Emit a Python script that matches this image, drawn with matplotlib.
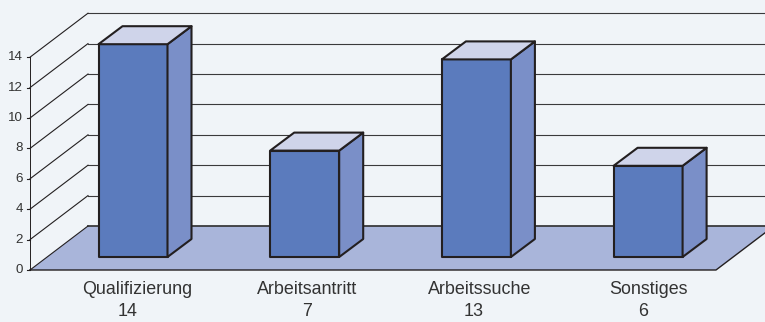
import matplotlib.pyplot as plt
from matplotlib.patches import Polygon

categories = ['Qualifizierung', 'Arbeitsantritt', 'Arbeitssuche', 'Sonstiges']
values = [14, 7, 13, 6]
y_ticks = [0, 2, 4, 6, 8, 10, 12, 14]

plt.rcParams['font.family'] = ['Liberation Sans', 'DejaVu Sans']

bg = '#f0f4f8'
front_col = '#5b7bbd'
side_col = '#7a8fc8'
top_col = '#cfd4ea'
floor_col = '#a9b5da'
line_col = '#231f20'

# one category = 171.7 px, one value unit = 15.2 px
px_x = 171.7
px_y = 15.2

fig = plt.figure(figsize=(7.65, 3.22), dpi=100, facecolor=bg)
ax = fig.add_axes([0, 0, 1, 1])
ax.set_xlim(-133 / px_x, (765 - 133) / px_x)
ax.set_ylim(-(322 - 270) / px_y, 270 / px_y)
ax.axis('off')

# depth of the box (back wall) and of the bars
box_dx, box_dy = 58 / px_x, 44 / px_y
bar_dx, bar_dy = 24 / px_x, 18 / px_y
bar_w = 69 / px_x
bar_base = 13 / px_y
x0 = -103 / px_x
x1 = 583 / px_x
x_end = 640 / px_x

# floor
ax.add_patch(Polygon([(x0, 0), (x1, 0), (x1 + box_dx, box_dy), (x0 + box_dx, box_dy)],
                     closed=True, fc=floor_col, ec='none', zorder=1))
ax.plot([x0, x1, x1 + box_dx], [0, 0, box_dy], color=line_col, lw=1.0, zorder=2)

# walls
ax.plot([x0, x0], [0, max(y_ticks)], color=line_col, lw=0.7, zorder=2)
for t in y_ticks:
    lw = 1.3 if t == 0 else 0.8
    ax.plot([x0 + box_dx, x_end], [t + box_dy, t + box_dy], color='#3a3a3c', lw=lw, zorder=2)
    ax.plot([x0, x0 + box_dx], [t, t + box_dy], color=line_col, lw=0.8, zorder=2)
    ax.plot([x0 - 3 / px_x, x0], [t, t], color=line_col, lw=0.8, zorder=2)
    ax.text(x0 - 7 / px_x, t, str(t), ha='right', va='center', fontsize=9.6, color='#333333')

# bars
for i, v in enumerate(values):
    l = i - bar_w / 2
    r = i + bar_w / 2
    b = bar_base
    t = bar_base + v
    ax.add_patch(Polygon([(l, b), (r, b), (r, t), (l, t)], closed=True,
                         fc=front_col, ec=line_col, lw=1.5, joinstyle='round', zorder=3))
    ax.add_patch(Polygon([(r, b), (r + bar_dx, b + bar_dy), (r + bar_dx, t + bar_dy), (r, t)], closed=True,
                         fc=side_col, ec=line_col, lw=1.5, joinstyle='round', zorder=3))
    ax.add_patch(Polygon([(l, t), (r, t), (r + bar_dx, t + bar_dy), (l + bar_dx, t + bar_dy)], closed=True,
                         fc=top_col, ec=line_col, lw=1.5, joinstyle='round', zorder=3))

# labels sit a bit off the bar centres in the original
name_shift = [4.5, 2.5, 3.5, 0.5]
value_shift = [-5, 2, -3, -5]
for i, (c, v) in enumerate(zip(categories, values)):
    ax.text(i + name_shift[i] / px_x, -20 / px_y, c, ha='center', va='center', fontsize=12.9, color='#333333')
    ax.text(i + value_shift[i] / px_x, -42 / px_y, str(v), ha='center', va='center', fontsize=12.9, color='#333333')

fig.savefig('out.png', dpi=100, facecolor=bg)
